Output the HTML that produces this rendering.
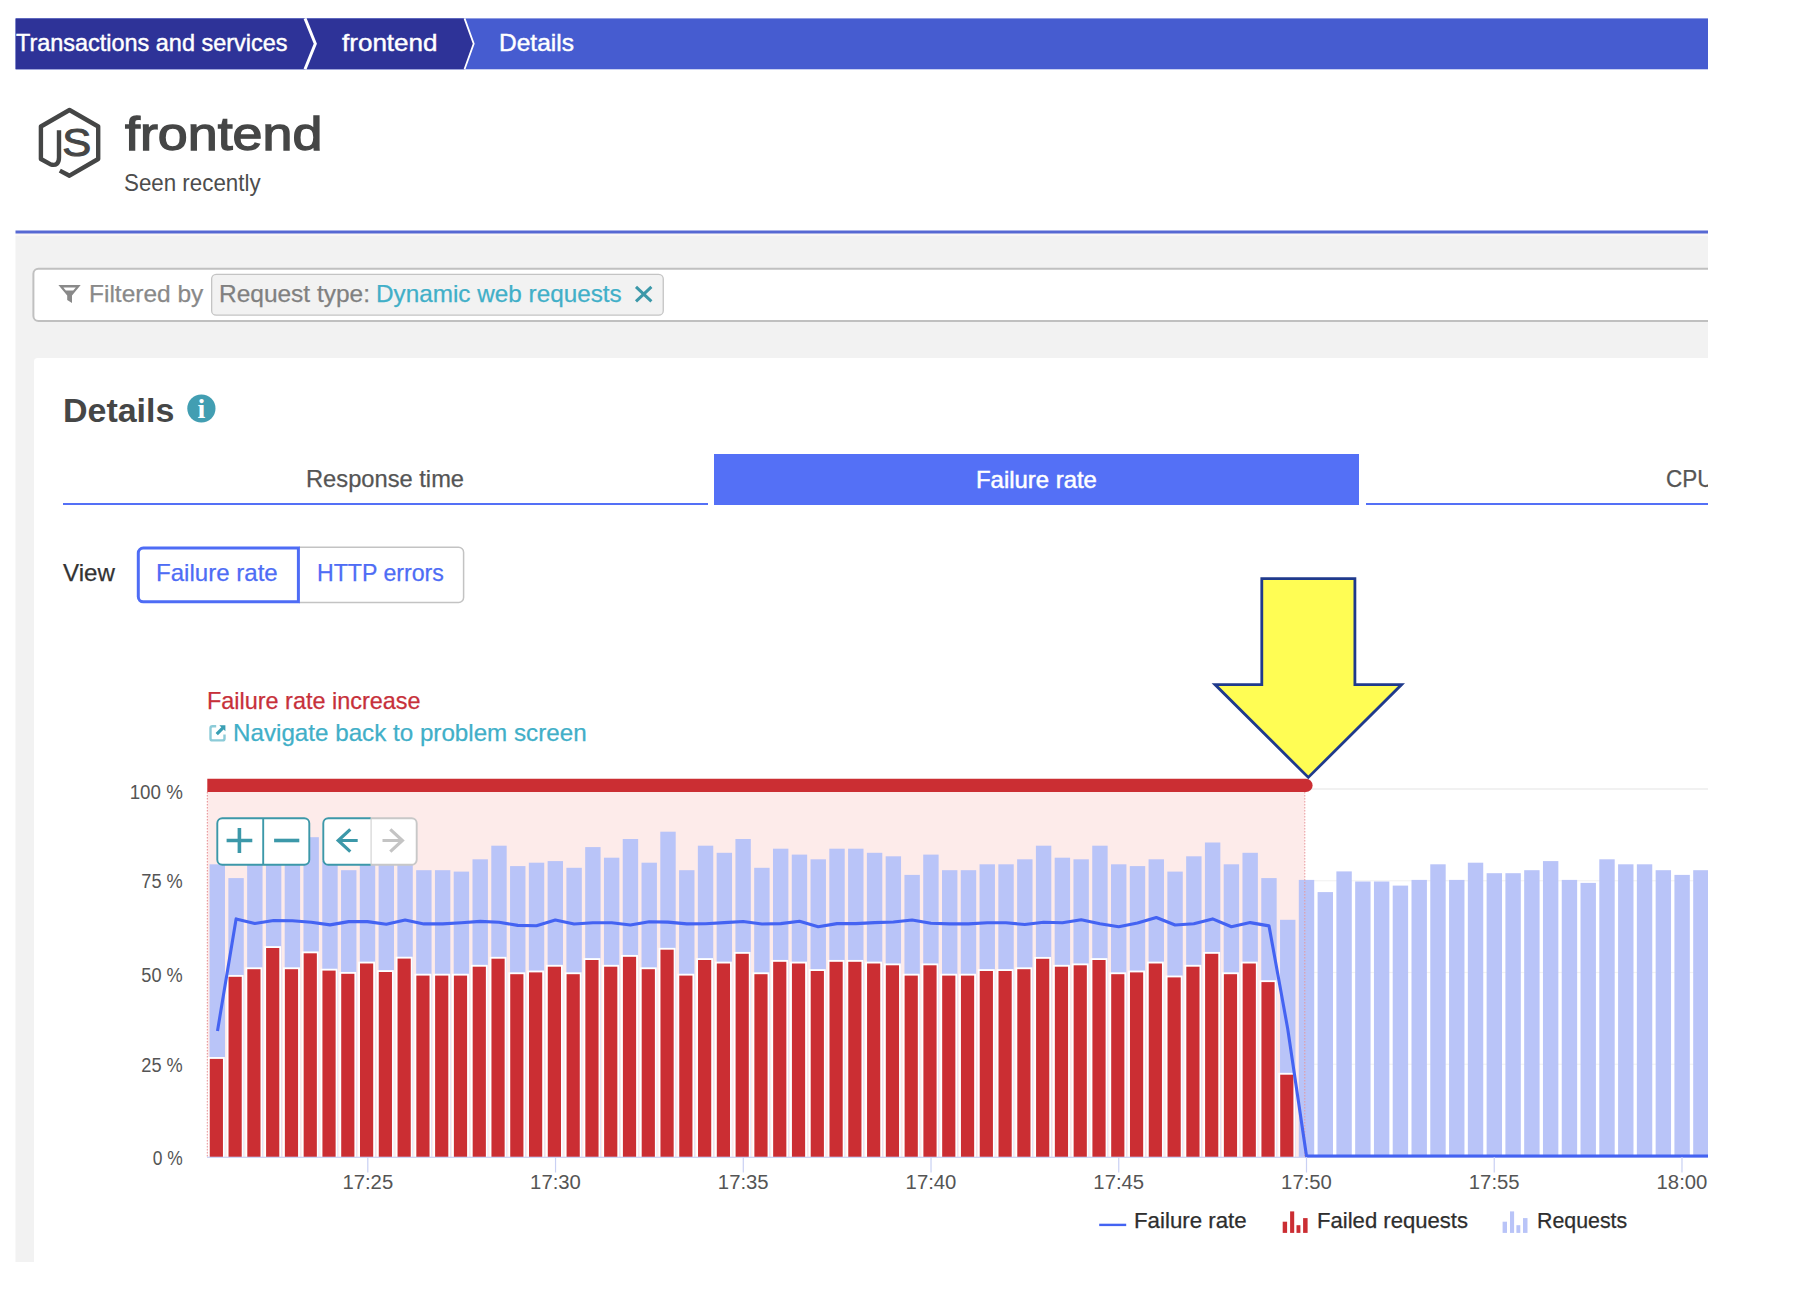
<!DOCTYPE html>
<html lang="en"><head><meta charset="utf-8"><title>frontend - Details</title>
<style>
html,body{margin:0;padding:0;background:#fff;}
body{width:1800px;height:1298px;overflow:hidden;position:relative;font-family:'Liberation Sans', sans-serif;}
#clip{position:absolute;left:0;top:0;width:1708px;height:1261.7px;overflow:hidden;}
.t{position:absolute;white-space:pre;line-height:1;font-family:'Liberation Sans', sans-serif;transform-origin:0 0;}
svg text{font-family:'Liberation Sans', sans-serif;}
.abs{position:absolute;}
</style></head><body>
<div id="clip">
<!-- grey page background, header underline, card -->
<svg class="abs" style="left:0;top:0" width="1800" height="1298" viewBox="0 0 1800 1298">
<rect x="15.5" y="233.4" width="1700" height="3" fill="#faf7f5"/>
<rect x="15.5" y="236" width="1700" height="1040" fill="#f2f2f2"/>
<rect x="15.5" y="230.5" width="1700" height="3" fill="#5769d3"/>
<rect x="34" y="358" width="1700" height="920" rx="3.5" fill="#fff"/>
</svg>
<!-- breadcrumb -->
<svg class="abs" style="left:0;top:0" width="1800" height="80" viewBox="0 0 1800 80">
<rect x="15.6" y="18.4" width="1700" height="50.9" fill="#465cd0"/>
<polygon points="15.6,18.4 464.5,18.4 473.7,43.8 464.5,69.3 15.6,69.3" fill="#2e3398"/>
<polyline points="305,18.4 315.3,43.8 305,69.3" fill="none" stroke="#fff" stroke-width="3"/>
<polyline points="464.5,18.4 473.7,43.8 464.5,69.3" fill="none" stroke="#fff" stroke-width="1.8"/>
</svg>
<!-- service icon -->
<svg class="abs" style="left:30px;top:100px" width="80" height="86" viewBox="30 100 80 86">
<path d="M59.8 170.6 L69.5 175.7 L98.2 159 V126.5 L69.5 110 L40.9 126.5 V159 L50.6 164.4 Q59 166.6 59 157.5 V130.3" fill="none" stroke="#454646" stroke-width="4.4" stroke-linejoin="round"/>
<text x="62.2" y="156.4" font-size="38.5" font-weight="400" fill="#454646" stroke="#454646" stroke-width="1.0" textLength="29" lengthAdjust="spacingAndGlyphs">S</text>
</svg>
<!-- filter bar -->
<svg class="abs" style="left:0;top:260px" width="1800" height="70" viewBox="0 260 1800 70">
<rect x="33.4" y="268.8" width="1700" height="52.2" rx="5" fill="#fff" stroke="#c0c0c0" stroke-width="2"/>
<rect x="211.65" y="274.35" width="451.6" height="40.8" rx="4.5" fill="#f2f2f2" stroke="#c4c4c4" stroke-width="1.3"/>
</svg>
<svg class="abs" style="left:56px;top:282px" width="28" height="24" viewBox="56 282 28 24">
<path d="M58.4 285 H80.7 L72 295.5 V303 L67.2 300 V295.5 Z" fill="#898989"/>
<path d="M63.3 287.6 H75.8 L73.2 290.6 H65.9 Z" fill="#fff"/>
</svg>

<svg class="abs" style="left:632px;top:283px" width="24" height="22" viewBox="632 283 24 22">
<path d="M636 286.8 L651.4 301.4 M651.4 286.8 L636 301.4" stroke="#3c98a9" stroke-width="3" fill="none"/>
</svg>
<!-- card -->
<svg class="abs" style="left:185px;top:392px" width="34" height="34" viewBox="185 392 34 34">
<circle cx="201.4" cy="408.5" r="14.1" fill="#429eb2"/>
<text x="201.5" y="418.4" text-anchor="middle" style="font-family:'Liberation Serif',serif" font-weight="700" font-size="28" fill="#fff">i</text>
</svg>
<!-- tabs -->
<div class="abs" style="left:63px;top:502.6px;width:644.8px;height:2.2px;background:#5470f6;"></div>
<div class="abs" style="left:714.2px;top:453.7px;width:644.8px;height:51px;background:#5470f6;"></div>
<div class="abs" style="left:1366.2px;top:502.6px;width:644.8px;height:2.2px;background:#5470f6;"></div>
<!-- view toggle -->
<svg class="abs" style="left:130px;top:540px" width="340" height="70" viewBox="130 540 340 70">
<path d="M299 547.35 H458.6 a5 5 0 0 1 5 5 V597.5 a5 5 0 0 1 -5 5 H299" fill="#fff" stroke="#c3c3c3" stroke-width="1.5"/>
<path d="M298.4 548.1 H143.3 a5 5 0 0 0 -5 5 V596.8 a5 5 0 0 0 5 5 H298.4 Z" fill="#fff" stroke="#4e6cf5" stroke-width="3"/>
</svg>
<!-- external link icon -->
<svg class="abs" style="left:206px;top:722px" width="24" height="24" viewBox="206 722 24 24">
<path d="M216.2 726.3 H212.5 a2 2 0 0 0 -2 2 V738.4 a2 2 0 0 0 2 2 H222.5 a2 2 0 0 0 2 -2 V734.6" fill="none" stroke="#8ccbd8" stroke-width="2.4"/>
<path d="M219.3 725.3 H225.4 V731.3 L223.6 729.5 L217.9 735.2 L215.6 732.9 L221.3 727.2 Z" fill="#3a9fb4"/>
</svg>
<svg id="chart" width="1800" height="1298" viewBox="0 0 1800 1298" style="position:absolute;left:0;top:0"><defs><clipPath id="cb"><rect x="200" y="700" width="1600" height="457.0"/></clipPath></defs><rect x="207" y="1063.65" width="1510" height="1.2" fill="#f2f2f2"/><rect x="207" y="971.90" width="1510" height="1.2" fill="#f2f2f2"/><rect x="207" y="880.15" width="1510" height="1.2" fill="#f2f2f2"/><rect x="207" y="788.40" width="1510" height="1.2" fill="#e8e8e8"/><rect x="207.3" y="790" width="1097.5" height="367.0" fill="#fdebea"/><line x1="207.3" y1="792" x2="207.3" y2="1157.0" stroke="#e58a8e" stroke-width="1" stroke-dasharray="1.5,1.5"/><g fill="#b9c4f8"><rect x="209.58" y="864.3" width="15.4" height="292.7"/><rect x="228.36" y="878.1" width="15.4" height="278.9"/><rect x="247.14" y="860.6" width="15.4" height="296.4"/><rect x="265.92" y="831.3" width="15.4" height="325.7"/><rect x="284.70" y="864.0" width="15.4" height="293.0"/><rect x="303.48" y="837.2" width="15.4" height="319.8"/><rect x="322.26" y="861.0" width="15.4" height="296.0"/><rect x="341.04" y="870.2" width="15.4" height="286.8"/><rect x="359.82" y="854.0" width="15.4" height="303.0"/><rect x="378.60" y="864.0" width="15.4" height="293.0"/><rect x="397.38" y="848.5" width="15.4" height="308.5"/><rect x="416.16" y="870.2" width="15.4" height="286.8"/><rect x="434.94" y="870.2" width="15.4" height="286.8"/><rect x="453.72" y="871.6" width="15.4" height="285.4"/><rect x="472.50" y="859.3" width="15.4" height="297.7"/><rect x="491.28" y="845.7" width="15.4" height="311.3"/><rect x="510.06" y="866.1" width="15.4" height="290.9"/><rect x="528.84" y="862.7" width="15.4" height="294.3"/><rect x="547.62" y="861.1" width="15.4" height="295.9"/><rect x="566.40" y="867.8" width="15.4" height="289.2"/><rect x="585.18" y="847.1" width="15.4" height="309.9"/><rect x="603.96" y="857.7" width="15.4" height="299.3"/><rect x="622.74" y="839.0" width="15.4" height="318.0"/><rect x="641.52" y="862.7" width="15.4" height="294.3"/><rect x="660.30" y="831.7" width="15.4" height="325.3"/><rect x="679.08" y="870.2" width="15.4" height="286.8"/><rect x="697.86" y="845.7" width="15.4" height="311.3"/><rect x="716.64" y="852.8" width="15.4" height="304.2"/><rect x="735.42" y="839.0" width="15.4" height="318.0"/><rect x="754.20" y="867.8" width="15.4" height="289.2"/><rect x="772.98" y="848.7" width="15.4" height="308.3"/><rect x="791.76" y="854.6" width="15.4" height="302.4"/><rect x="810.54" y="859.3" width="15.4" height="297.7"/><rect x="829.32" y="848.7" width="15.4" height="308.3"/><rect x="848.10" y="848.7" width="15.4" height="308.3"/><rect x="866.88" y="852.8" width="15.4" height="304.2"/><rect x="885.66" y="856.3" width="15.4" height="300.7"/><rect x="904.44" y="874.9" width="15.4" height="282.1"/><rect x="923.22" y="854.6" width="15.4" height="302.4"/><rect x="942.00" y="870.2" width="15.4" height="286.8"/><rect x="960.78" y="870.2" width="15.4" height="286.8"/><rect x="979.56" y="864.3" width="15.4" height="292.7"/><rect x="998.34" y="864.3" width="15.4" height="292.7"/><rect x="1017.12" y="859.3" width="15.4" height="297.7"/><rect x="1035.90" y="845.7" width="15.4" height="311.3"/><rect x="1054.68" y="857.7" width="15.4" height="299.3"/><rect x="1073.46" y="859.3" width="15.4" height="297.7"/><rect x="1092.24" y="845.7" width="15.4" height="311.3"/><rect x="1111.02" y="864.3" width="15.4" height="292.7"/><rect x="1129.80" y="866.1" width="15.4" height="290.9"/><rect x="1148.58" y="859.3" width="15.4" height="297.7"/><rect x="1167.36" y="871.6" width="15.4" height="285.4"/><rect x="1186.14" y="856.3" width="15.4" height="300.7"/><rect x="1204.92" y="842.5" width="15.4" height="314.5"/><rect x="1223.70" y="864.3" width="15.4" height="292.7"/><rect x="1242.48" y="852.8" width="15.4" height="304.2"/><rect x="1261.26" y="878.1" width="15.4" height="278.9"/><rect x="1280.04" y="919.8" width="15.4" height="237.2"/><rect x="1298.82" y="879.9" width="15.4" height="277.1"/><rect x="1317.60" y="892.1" width="15.4" height="264.9"/><rect x="1336.38" y="871.4" width="15.4" height="285.6"/><rect x="1355.16" y="881.5" width="15.4" height="275.5"/><rect x="1373.94" y="881.5" width="15.4" height="275.5"/><rect x="1392.72" y="885.6" width="15.4" height="271.4"/><rect x="1411.50" y="879.9" width="15.4" height="277.1"/><rect x="1430.28" y="864.3" width="15.4" height="292.7"/><rect x="1449.06" y="879.9" width="15.4" height="277.1"/><rect x="1467.84" y="862.7" width="15.4" height="294.3"/><rect x="1486.62" y="873.2" width="15.4" height="283.8"/><rect x="1505.40" y="873.2" width="15.4" height="283.8"/><rect x="1524.18" y="870.2" width="15.4" height="286.8"/><rect x="1542.96" y="861.1" width="15.4" height="295.9"/><rect x="1561.74" y="879.9" width="15.4" height="277.1"/><rect x="1580.52" y="882.9" width="15.4" height="274.1"/><rect x="1599.30" y="859.3" width="15.4" height="297.7"/><rect x="1618.08" y="864.3" width="15.4" height="292.7"/><rect x="1636.86" y="864.3" width="15.4" height="292.7"/><rect x="1655.64" y="870.2" width="15.4" height="286.8"/><rect x="1674.42" y="874.9" width="15.4" height="282.1"/><rect x="1693.20" y="870.2" width="15.4" height="286.8"/></g><line x1="1304.8" y1="792" x2="1304.8" y2="1157.0" stroke="#e9979b" stroke-width="1" stroke-dasharray="1.5,1.5"/><g fill="#cb2e33" stroke="#fff" stroke-width="3.7" paint-order="stroke" clip-path="url(#cb)"><rect x="209.75" y="1058.9" width="13.2" height="101.1"/><rect x="228.53" y="976.8" width="13.2" height="183.2"/><rect x="247.31" y="969.2" width="13.2" height="190.8"/><rect x="266.09" y="948.0" width="13.2" height="212.0"/><rect x="284.87" y="969.2" width="13.2" height="190.8"/><rect x="303.65" y="953.3" width="13.2" height="206.7"/><rect x="322.43" y="970.6" width="13.2" height="189.4"/><rect x="341.21" y="973.8" width="13.2" height="186.2"/><rect x="359.99" y="963.5" width="13.2" height="196.5"/><rect x="378.77" y="972.0" width="13.2" height="188.0"/><rect x="397.55" y="958.6" width="13.2" height="201.4"/><rect x="416.33" y="975.6" width="13.2" height="184.4"/><rect x="435.11" y="975.6" width="13.2" height="184.4"/><rect x="453.89" y="975.6" width="13.2" height="184.4"/><rect x="472.67" y="966.7" width="13.2" height="193.3"/><rect x="491.45" y="958.7" width="13.2" height="201.3"/><rect x="510.23" y="974.2" width="13.2" height="185.8"/><rect x="529.01" y="972.4" width="13.2" height="187.6"/><rect x="547.79" y="966.7" width="13.2" height="193.3"/><rect x="566.57" y="974.2" width="13.2" height="185.8"/><rect x="585.35" y="960.0" width="13.2" height="200.0"/><rect x="604.13" y="966.7" width="13.2" height="193.3"/><rect x="622.91" y="956.8" width="13.2" height="203.2"/><rect x="641.69" y="969.2" width="13.2" height="190.8"/><rect x="660.47" y="949.7" width="13.2" height="210.3"/><rect x="679.25" y="975.6" width="13.2" height="184.4"/><rect x="698.03" y="960.0" width="13.2" height="200.0"/><rect x="716.81" y="963.5" width="13.2" height="196.5"/><rect x="735.59" y="953.8" width="13.2" height="206.2"/><rect x="754.37" y="974.2" width="13.2" height="185.8"/><rect x="773.15" y="961.8" width="13.2" height="198.2"/><rect x="791.93" y="963.5" width="13.2" height="196.5"/><rect x="810.71" y="971.0" width="13.2" height="189.0"/><rect x="829.49" y="961.8" width="13.2" height="198.2"/><rect x="848.27" y="961.8" width="13.2" height="198.2"/><rect x="867.05" y="963.5" width="13.2" height="196.5"/><rect x="885.83" y="965.3" width="13.2" height="194.7"/><rect x="904.61" y="975.6" width="13.2" height="184.4"/><rect x="923.39" y="965.3" width="13.2" height="194.7"/><rect x="942.17" y="975.6" width="13.2" height="184.4"/><rect x="960.95" y="975.6" width="13.2" height="184.4"/><rect x="979.73" y="971.0" width="13.2" height="189.0"/><rect x="998.51" y="971.0" width="13.2" height="189.0"/><rect x="1017.29" y="969.2" width="13.2" height="190.8"/><rect x="1036.07" y="958.8" width="13.2" height="201.2"/><rect x="1054.85" y="966.7" width="13.2" height="193.3"/><rect x="1073.63" y="965.3" width="13.2" height="194.7"/><rect x="1092.41" y="960.0" width="13.2" height="200.0"/><rect x="1111.19" y="974.2" width="13.2" height="185.8"/><rect x="1129.97" y="972.4" width="13.2" height="187.6"/><rect x="1148.75" y="963.5" width="13.2" height="196.5"/><rect x="1167.53" y="977.4" width="13.2" height="182.6"/><rect x="1186.31" y="966.7" width="13.2" height="193.3"/><rect x="1205.09" y="953.8" width="13.2" height="206.2"/><rect x="1223.87" y="974.2" width="13.2" height="185.8"/><rect x="1242.65" y="963.5" width="13.2" height="196.5"/><rect x="1261.43" y="982.1" width="13.2" height="177.9"/><rect x="1280.21" y="1074.7" width="13.2" height="85.3"/></g><rect x="207" y="1156.7" width="1510" height="1.2" fill="#c9d0f3"/><polyline fill="none" stroke="#4463f2" stroke-width="3.1" stroke-linejoin="round" points="217.5,1030.9 236.1,918.9 254.8,923.5 273.6,920.5 292.4,920.8 311.2,922.2 330.0,924.9 348.7,921.6 367.5,921.6 386.3,924.3 405.1,920.0 423.9,923.9 442.6,923.9 461.4,922.7 480.2,921.4 499.0,922.2 517.8,925.4 536.5,925.8 555.3,920.0 574.1,924.0 592.9,922.7 611.7,922.7 630.4,925.0 649.2,921.8 668.0,922.1 686.8,923.9 705.6,923.8 724.3,922.6 743.1,921.5 761.9,924.0 780.7,923.6 799.5,921.2 818.2,926.7 837.0,923.6 855.8,923.6 874.6,922.6 893.4,922.0 912.1,920.0 930.9,923.3 949.7,923.9 968.5,923.9 987.3,922.8 1006.0,922.8 1024.8,924.5 1043.6,922.3 1062.4,922.7 1081.2,919.7 1099.9,923.8 1118.7,926.8 1137.5,923.1 1156.3,917.5 1175.1,925.0 1193.8,923.7 1212.6,918.9 1231.4,926.8 1250.2,922.6 1269.0,925.9 1287.7,1028.7 1306.5,1156.0 1325.3,1156.0 1344.1,1156.0 1362.9,1156.0 1381.6,1156.0 1400.4,1156.0 1419.2,1156.0 1438.0,1156.0 1456.8,1156.0 1475.5,1156.0 1494.3,1156.0 1513.1,1156.0 1531.9,1156.0 1550.7,1156.0 1569.4,1156.0 1588.2,1156.0 1607.0,1156.0 1625.8,1156.0 1644.6,1156.0 1663.3,1156.0 1682.1,1156.0 1700.9,1156.0 1720.0,1156.0"/><path d="M207.3 778.8 H1306 a6.6 6.6 0 0 1 0 13.2 H207.3 Z" fill="#cb2e33"/><rect x="367.20" y="1157.0" width="1.2" height="15.5" fill="#c9d0f3"/><text x="367.80" y="1189.2" text-anchor="middle" font-size="20" fill="#555" textLength="50.8" lengthAdjust="spacingAndGlyphs">17:25</text><rect x="554.94" y="1157.0" width="1.2" height="15.5" fill="#c9d0f3"/><text x="555.54" y="1189.2" text-anchor="middle" font-size="20" fill="#555" textLength="50.8" lengthAdjust="spacingAndGlyphs">17:30</text><rect x="742.68" y="1157.0" width="1.2" height="15.5" fill="#c9d0f3"/><text x="743.28" y="1189.2" text-anchor="middle" font-size="20" fill="#555" textLength="50.8" lengthAdjust="spacingAndGlyphs">17:35</text><rect x="930.42" y="1157.0" width="1.2" height="15.5" fill="#c9d0f3"/><text x="931.02" y="1189.2" text-anchor="middle" font-size="20" fill="#555" textLength="50.8" lengthAdjust="spacingAndGlyphs">17:40</text><rect x="1118.16" y="1157.0" width="1.2" height="15.5" fill="#c9d0f3"/><text x="1118.76" y="1189.2" text-anchor="middle" font-size="20" fill="#555" textLength="50.8" lengthAdjust="spacingAndGlyphs">17:45</text><rect x="1305.90" y="1157.0" width="1.2" height="15.5" fill="#c9d0f3"/><text x="1306.50" y="1189.2" text-anchor="middle" font-size="20" fill="#555" textLength="50.8" lengthAdjust="spacingAndGlyphs">17:50</text><rect x="1493.64" y="1157.0" width="1.2" height="15.5" fill="#c9d0f3"/><text x="1494.24" y="1189.2" text-anchor="middle" font-size="20" fill="#555" textLength="50.8" lengthAdjust="spacingAndGlyphs">17:55</text><rect x="1681.38" y="1157.0" width="1.2" height="15.5" fill="#c9d0f3"/><text x="1681.98" y="1189.2" text-anchor="middle" font-size="20" fill="#555" textLength="50.8" lengthAdjust="spacingAndGlyphs">18:00</text><text x="152.80" y="1165.40" font-size="20" fill="#555" textLength="30.0" lengthAdjust="spacingAndGlyphs">0 %</text><text x="141.30" y="1072.20" font-size="20" fill="#555" textLength="41.5" lengthAdjust="spacingAndGlyphs">25 %</text><text x="141.30" y="981.60" font-size="20" fill="#555" textLength="41.5" lengthAdjust="spacingAndGlyphs">50 %</text><text x="141.30" y="888.00" font-size="20" fill="#555" textLength="41.5" lengthAdjust="spacingAndGlyphs">75 %</text><text x="129.70" y="798.80" font-size="20" fill="#555" textLength="53.1" lengthAdjust="spacingAndGlyphs">100 %</text><rect x="1099.2" y="1223.7" width="27" height="2.4" fill="#4463f2"/><g fill="#cb2e33"><rect x="1282.7" y="1221.7" width="4.4" height="11.2"/><rect x="1290.1000000000001" y="1211.4" width="4.1" height="21.5"/><rect x="1296.5" y="1225.2" width="3.9" height="7.7"/><rect x="1303.1000000000001" y="1218.1" width="4.5" height="14.8"/></g><g fill="#b9c4f8"><rect x="1502.6" y="1221.7" width="4.4" height="11.2"/><rect x="1510.0" y="1211.4" width="4.1" height="21.5"/><rect x="1516.3999999999999" y="1225.2" width="3.9" height="7.7"/><rect x="1523.0" y="1218.1" width="4.5" height="14.8"/></g><g stroke-width="1.9" fill="#fff">
<path d="M370.6 818.3 H411.7 a5 5 0 0 1 5 5 V859.8 a5 5 0 0 1 -5 5 H370.6 Z" stroke="#c8c8c8"/>
<path d="M370.6 818.3 H328.3 a5 5 0 0 0 -5 5 V859.8 a5 5 0 0 0 5 5 H370.6" stroke="#3c98a9"/>
<rect x="217.3" y="818.3" width="92" height="46.5" rx="5" stroke="#3c98a9"/>
<line x1="263.2" y1="818.3" x2="263.2" y2="864.8" stroke="#3c98a9"/>
</g>
<g stroke="#3c98a9" stroke-width="3.6" fill="none">
<path d="M226.6 840.5 H252.3 M239.4 828 V853"/>
<path d="M274.1 840.5 H299.3"/>
</g>
<path d="M357.7 840.5 H338.5 M350.3 829.3 L338.2 840.5 L350.3 851.7" stroke="#3c98a9" stroke-width="3.2" fill="none"/>
<path d="M382.5 840.5 H402 M390.3 829.3 L402.4 840.5 L390.3 851.7" stroke="#c4c4c4" stroke-width="3.2" fill="none"/>
<polygon points="1261.8,578.6 1354.9,578.6 1354.9,684.6 1401.6,684.6 1308.3,777.4 1215,684.6 1261.8,684.6" fill="#fffd54" stroke="#1f3a8c" stroke-width="2.8" stroke-linejoin="miter"/></svg>
<span class="t" style="left:16.37px;top:30.66px;font-size:24.5px;font-weight:400;color:#fff;transform:scaleX(0.9567);-webkit-text-stroke:0.45px #fff;">Transactions and services</span><span class="t" style="left:342.02px;top:30.66px;font-size:24.5px;font-weight:400;color:#fff;transform:scaleX(1.0626);-webkit-text-stroke:0.45px #fff;">frontend</span><span class="t" style="left:498.68px;top:30.66px;font-size:24.5px;font-weight:400;color:#fff;transform:scaleX(1.0005);-webkit-text-stroke:0.45px #fff;">Details</span><span class="t" style="left:124.74px;top:111.44px;font-size:46.5px;font-weight:400;color:#454646;transform:scaleX(1.1564);-webkit-text-stroke:1.35px #454646;">frontend</span><span class="t" style="left:123.56px;top:171.18px;font-size:24px;font-weight:400;color:#4d4d4d;transform:scaleX(0.9306);">Seen recently</span><span class="t" style="left:88.76px;top:281.68px;font-size:24px;font-weight:400;color:#898989;transform:scaleX(1.0205);-webkit-text-stroke:0.25px currentColor;">Filtered by</span><span class="t" style="left:218.56px;top:281.68px;font-size:24px;font-weight:400;color:#808080;transform:scaleX(1.0196);-webkit-text-stroke:0.25px currentColor;">Request type:</span><span class="t" style="left:376.28px;top:281.68px;font-size:24px;font-weight:400;color:#41afc8;transform:scaleX(1.0121);-webkit-text-stroke:0.25px currentColor;">Dynamic web requests</span><span class="t" style="left:62.61px;top:394.17px;font-size:33px;font-weight:700;color:#454646;transform:scaleX(1.0290);">Details</span><span class="t" style="left:305.63px;top:467.48px;font-size:24px;font-weight:400;color:#555;transform:scaleX(0.9873);-webkit-text-stroke:0.25px currentColor;">Response time</span><span class="t" style="left:976.21px;top:467.88px;font-size:24px;font-weight:400;color:#fff;transform:scaleX(0.9962);-webkit-text-stroke:0.5px #fff;">Failure rate</span><span class="t" style="left:1665.91px;top:467.48px;font-size:24px;font-weight:400;color:#555;transform:scaleX(0.9378);-webkit-text-stroke:0.25px currentColor;">CPU</span><span class="t" style="left:63.07px;top:560.68px;font-size:24px;font-weight:400;color:#333;transform:scaleX(1.0046);-webkit-text-stroke:0.25px currentColor;">View</span><span class="t" style="left:155.59px;top:560.68px;font-size:24px;font-weight:400;color:#4e6cf5;transform:scaleX(1.0029);-webkit-text-stroke:0.25px currentColor;">Failure rate</span><span class="t" style="left:316.57px;top:560.68px;font-size:24px;font-weight:400;color:#4e6cf5;transform:scaleX(0.9646);-webkit-text-stroke:0.25px currentColor;">HTTP errors</span><span class="t" style="left:207.25px;top:688.68px;font-size:24px;font-weight:400;color:#c7303a;transform:scaleX(0.9762);-webkit-text-stroke:0.25px currentColor;">Failure rate increase</span><span class="t" style="left:232.78px;top:720.68px;font-size:24px;font-weight:400;color:#41afc8;transform:scaleX(1.0078);-webkit-text-stroke:0.25px currentColor;">Navigate back to problem screen</span><span class="t" style="left:1134.17px;top:1211.10px;font-size:21.5px;font-weight:400;color:#2e2e2e;transform:scaleX(1.0361);-webkit-text-stroke:0.25px currentColor;">Failure rate</span><span class="t" style="left:1316.79px;top:1211.10px;font-size:21.5px;font-weight:400;color:#2e2e2e;transform:scaleX(1.0276);-webkit-text-stroke:0.25px currentColor;">Failed requests</span><span class="t" style="left:1537.15px;top:1211.10px;font-size:21.5px;font-weight:400;color:#2e2e2e;transform:scaleX(0.9927);-webkit-text-stroke:0.25px currentColor;">Requests</span>
</div>
</body></html>
